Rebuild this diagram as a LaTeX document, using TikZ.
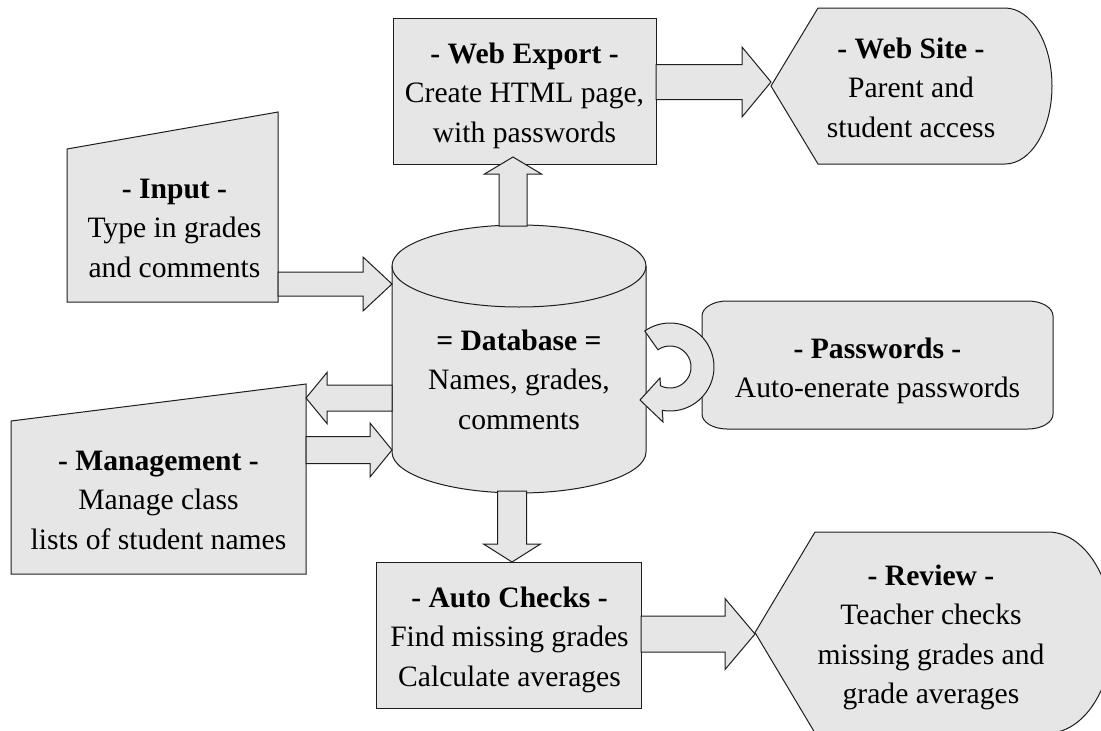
\documentclass[tikz,border=0pt]{standalone}
\usepackage{fontspec}
\setmainfont{Liberation Serif}
\usetikzlibrary{calc}
\definecolor{boxgray}{RGB}{230,230,230}
\definecolor{edge}{RGB}{30,30,30}
\tikzset{
  outline/.style={fill=boxgray, draw=edge, line width=1pt, line join=miter},
  shapeframe/.style={draw=none, rectangle, inner sep=0pt, outer sep=0pt},
  procbox/.style={outline, rectangle, inner sep=0pt, outer sep=0pt},
  blockarrow/.style={outline},
  boxtext/.style={align=center, inner sep=0pt, font=\fontsize{29.6}{39.5}\selectfont},
}
% block arrow: #1 start, #2 tip, #3 shaft half width, #4 head half width, #5 head length
\newcommand\fatarrow[5]{%
  \path #1 coordinate (fa-s) #2 coordinate (fa-t);
  \path ($(fa-t)!#5!(fa-s)$) coordinate (fa-b);
  \draw[blockarrow] ($(fa-s)!#3!90:(fa-t)$) -- ($(fa-b)!#3!90:(fa-t)$)
    -- ($(fa-b)!#4!90:(fa-t)$) -- (fa-t) -- ($(fa-b)!#4!-90:(fa-t)$)
    -- ($(fa-b)!#3!-90:(fa-t)$) -- ($(fa-s)!#3!-90:(fa-t)$) -- cycle;}
\begin{document}
\begin{tikzpicture}[x=1pt,y=-1pt]
\useasboundingbox (0,0) rectangle (1101,731);
\clip (0,0) rectangle (1101,731);

% process boxes
\node[procbox, minimum width=263pt, minimum height=146pt] (webexport) at (524.5,91) {};
\node[procbox, minimum width=265pt, minimum height=146pt] (autochecks) at (508.5,635) {};

% frames of the other shapes
\node[shapeframe, minimum width=281pt, minimum height=156pt] (website) at (911.5,86) {};
\node[shapeframe, minimum width=211pt, minimum height=190pt] (input) at (172.5,207) {};
\node[shapeframe, minimum width=254pt, minimum height=268pt] (db) at (519,359) {};
\node[shapeframe, minimum width=351pt, minimum height=128pt] (passwords) at (877.5,365) {};
\node[shapeframe, minimum width=295pt, minimum height=190pt] (management) at (158.5,479) {};
\node[shapeframe, minimum width=358pt, minimum height=201pt] (review) at (934,632.5) {};

% display: web site
\begin{scope}[shift={(website.center)}]
  \draw[outline] (-140.5,0) -- (-93.5,-78) -- (93.5,-78)
    .. controls (119.5,-78) and (140.5,-43) .. (140.5,0)
    .. controls (140.5,43) and (119.5,78) .. (93.5,78) -- (-93.5,78) -- cycle;
\end{scope}

% display: review
\begin{scope}[shift={(review.center)}]
  \draw[outline] (-179,0) -- (-119,-100.5) -- (114,-100.5)
    .. controls (149.9,-100.5) and (179,-55.5) .. (179,0)
    .. controls (179,55.5) and (149.9,100.5) .. (114,100.5) -- (-119,100.5) -- cycle;
\end{scope}

% manual input shapes
\begin{scope}[shift={(input.center)}]
  \draw[outline] (-105.5,-58) -- (105.5,-95) -- (105.5,95) -- (-105.5,95) -- cycle;
\end{scope}
\begin{scope}[shift={(management.center)}]
  \draw[outline] (-147.5,-58) -- (147.5,-95) -- (147.5,95) -- (-147.5,95) -- cycle;
\end{scope}

% database cylinder
\begin{scope}[shift={(db.center)}]
  \draw[outline] (-127,-93) -- (-127,93)
    .. controls (-127,115.6) and (-70.1,134) .. (0,134)
    .. controls (70.1,134) and (127,115.6) .. (127,93) -- (127,-93)
    .. controls (127,-115.6) and (70.1,-134) .. (0,-134)
    .. controls (-70.1,-134) and (-127,-115.6) .. (-127,-93) -- cycle;
  \draw[draw=edge, line width=1pt] (-127,-93)
    .. controls (-127,-70.4) and (-70.1,-52) .. (0,-52)
    .. controls (70.1,-52) and (127,-70.4) .. (127,-93);
\end{scope}

% passwords: rectangle with elliptical corners
\begin{scope}[shift={(passwords.center)}]
  \draw[outline] (-175.5,-49) .. controls (-175.5,-57.3) and (-164.3,-64) .. (-150.5,-64)
    -- (150.5,-64) .. controls (164.3,-64) and (175.5,-57.3) .. (175.5,-49)
    -- (175.5,49) .. controls (175.5,57.3) and (164.3,64) .. (150.5,64)
    -- (-150.5,64) .. controls (-164.3,64) and (-175.5,57.3) .. (-175.5,49) -- cycle;
\end{scope}

% block arrows
\fatarrow{([yshift=9pt]webexport.east)}{([yshift=4pt]website.west)}{17.5pt}{35pt}{29pt}
\fatarrow{([xshift=-6pt,yshift=-1pt]db.north)}{([xshift=-11.5pt,yshift=7pt]webexport.south)}{14pt}{28.5pt}{17pt}
\fatarrow{([yshift=-77pt]input.east)}{([yshift=75pt]db.west)}{12pt}{27pt}{29pt}
\fatarrow{([yshift=-39pt]db.west)}{([yshift=81pt]management.east)}{13pt}{25.5pt}{21pt}
\fatarrow{([yshift=29pt]management.east)}{([yshift=-91pt]db.west)}{13.5pt}{27pt}{22pt}
\fatarrow{([xshift=-7pt,yshift=2pt]db.south)}{([xshift=3.5pt]autochecks.north)}{14.5pt}{28.5pt}{18pt}
\fatarrow{([yshift=1pt]autochecks.east)}{([yshift=-1.5pt]review.west)}{18pt}{35.5pt}{30pt}

% loop arrow from the database back into it
\coordinate (loopc) at ([xshift=24pt,yshift=-8pt]db.east);
\begin{scope}[shift={(loopc)}]
  \draw[outline] plot[domain=-125:100, samples=50] ({44*cos(\x)},{44*sin(\x)})
    -- (-7,55) -- (-30,33) -- (-10,11)
    -- plot[domain=117:-125, samples=50] ({21*cos(\x)},{21*sin(\x)}) -- cycle;
\end{scope}

% texts
\node[boxtext] (webexport-text) at ([yshift=-3.6pt]webexport.center)
  {\textbf{- Web Export -}\strut\\ Create HTML page,\strut\\ with passwords\strut};
\node[boxtext] (website-text) at ([xshift=-0.5pt,yshift=-4pt]website.center)
  {\textbf{- Web Site -}\strut\\ Parent and\strut\\ student access\strut};
\node[boxtext] (input-text) at ([xshift=2pt,yshift=-22.6pt]input.center)
  {\textbf{- Input -}\strut\\ Type in grades\strut\\ and comments\strut};
\node[boxtext] (db-text) at ([yshift=-23pt]db.center)
  {\textbf{= Database =}\strut\\ Names, grades,\strut\\ comments\strut};
\node[boxtext] (passwords-text) at ([yshift=-5pt]passwords.center)
  {\textbf{- Passwords -}\strut\\ Auto-enerate passwords\strut};
\node[boxtext] (management-text) at ([yshift=-22.6pt]management.center)
  {\textbf{- Management -}\strut\\ Manage class\strut\\ lists of student names\strut};
\node[boxtext] (autochecks-text) at ([xshift=1pt,yshift=-3.6pt]autochecks.center)
  {\textbf{- Auto Checks -}\strut\\ Find missing grades\strut\\ Calculate averages\strut};
\node[boxtext] (review-text) at ([xshift=-3pt,yshift=-3.9pt]review.center)
  {\textbf{- Review -}\strut\\ Teacher checks\strut\\ missing grades and\strut\\ grade averages\strut};
\end{tikzpicture}
\end{document}
